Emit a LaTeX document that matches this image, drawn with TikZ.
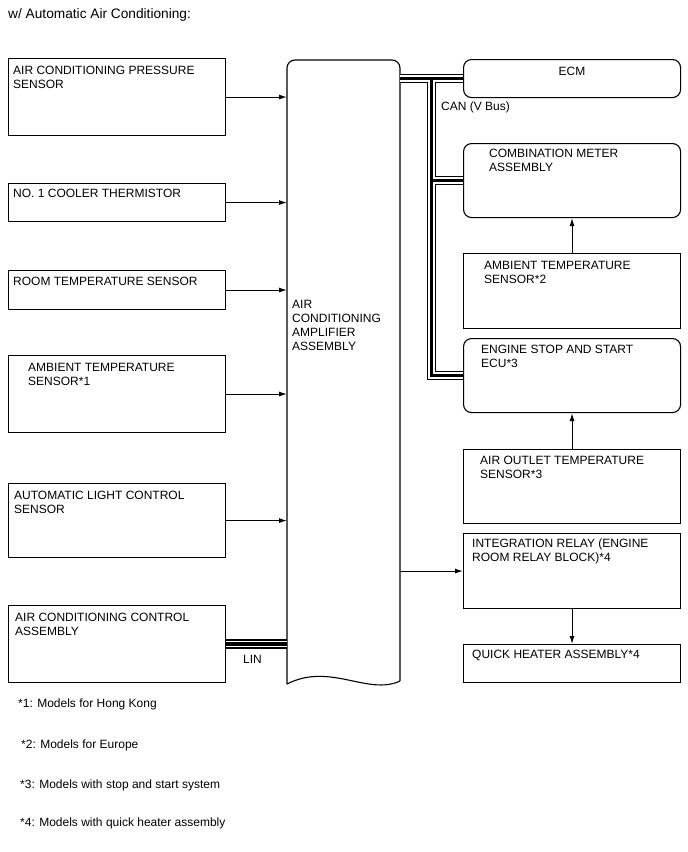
\documentclass[tikz,border=0pt]{standalone}
\usepackage{fontspec}
\setmainfont{Liberation Sans}
\usetikzlibrary{arrows.meta,positioning,calc}

\begin{document}
\begin{tikzpicture}[
    x=1pt, y=-1pt,
    font=\fontsize{12}{14}\selectfont,
    >={Latex[length=8pt,width=5pt]},
    unit/.style={rectangle, draw=black, line width=1.1pt, anchor=north west,
      inner sep=0pt, minimum width=217pt},
    ecu/.style={unit, rounded corners=8pt},
    txt/.style={align=left, inner sep=0pt, anchor=north west},
    sig/.style={->, line width=1.1pt},
  ]
  \useasboundingbox (0,0) rectangle (688,852);
  \node[txt, font=\fontsize{13.7}{16}\selectfont] (title) at (8,8) {w/ Automatic Air Conditioning:};

  % sensors / switches on the left
  \node[unit, minimum height=77pt] (pres) at (8,58) {};
  \node[txt, below right=8pt and 5pt of pres.north west] {AIR CONDITIONING PRESSURE\\SENSOR};
  \node[unit, minimum height=38pt] (cool) at (8,183) {};
  \node[txt, below right=6pt and 5pt of cool.north west] {NO. 1 COOLER THERMISTOR};
  \node[unit, minimum height=39pt] (room) at (8,270) {};
  \node[txt, below right=7pt and 5pt of room.north west] {ROOM TEMPERATURE SENSOR};
  \node[unit, minimum height=77pt] (amba) at (8,355) {};
  \node[txt, below right=8pt and 20pt of amba.north west] {AMBIENT TEMPERATURE\\SENSOR*1};
  \node[unit, minimum height=74pt] (light) at (8,483) {};
  \node[txt, below right=8pt and 6pt of light.north west] {AUTOMATIC LIGHT CONTROL\\SENSOR};
  \node[unit, minimum height=77pt] (ctrl) at (8,605) {};
  \node[txt, below right=8pt and 7pt of ctrl.north west] {AIR CONDITIONING CONTROL\\ASSEMBLY};

  % amplifier
  \node[anchor=north west, inner sep=0pt, minimum width=113pt, minimum height=622pt] (amp) at (287,60) {};
  \draw[line width=1.1pt, rounded corners=8pt] (287,684) -- (287,60) -- (400,60) -- (400,681);
  \draw[line width=1.1pt] (400,681) .. controls (368,696) and (330,662) .. (287,684);
  \node[txt, below right=240pt and 5pt of amp.north west] {AIR\\CONDITIONING\\AMPLIFIER\\ASSEMBLY};

  % units on the right
  \node[ecu, minimum height=38pt] (ecm) at (463,59) {};
  \node[txt, anchor=north] at ($(ecm.north)+(0,-8pt)$) {ECM};
  \node[ecu, minimum height=74pt] (meter) at (463,143) {};
  \node[txt, below right=6pt and 26pt of meter.north west] {COMBINATION METER\\ASSEMBLY};
  \node[unit, minimum height=75pt] (ambb) at (463,253) {};
  \node[txt, below right=8pt and 21pt of ambb.north west] {AMBIENT TEMPERATURE\\SENSOR*2};
  \node[ecu, minimum height=74pt] (eco) at (463,338) {};
  \node[txt, below right=7pt and 18pt of eco.north west] {ENGINE STOP AND START\\ECU*3};
  \node[unit, minimum height=74pt] (outlet) at (463,449) {};
  \node[txt, below right=7pt and 17pt of outlet.north west] {AIR OUTLET TEMPERATURE\\SENSOR*3};
  \node[unit, minimum height=75pt] (relay) at (463,533) {};
  \node[txt, below right=6pt and 9pt of relay.north west] {INTEGRATION RELAY (ENGINE\\ROOM RELAY BLOCK)*4};
  \node[unit, minimum height=38pt] (heater) at (463,644) {};
  \node[txt, below right=6pt and 9pt of heater.north west] {QUICK HEATER ASSEMBLY*4};

  % signals
  \foreach \s in {pres,cool,room,amba,light}
    \draw[sig] (\s.east) -- (\s.east -| amp.west);
  \draw[sig] (relay.west -| amp.east) -- (relay.west);
  \draw[sig] (ambb.north) -- (meter.south);
  \draw[sig] (outlet.north) -- (eco.south);
  \draw[sig] (relay.south) -- (heater.north);

  % CAN and LIN
  \coordinate (canj) at ($(ecm.west -| amp.east)+(31,0)$);
  \foreach \w/\c in {9.6pt/black,6.6pt/white,3.2pt/black}{
    \draw[line width=\w, draw=\c] (ecm.west -| amp.east) -- (ecm.west);
    \draw[line width=\w, draw=\c] (canj) -- (canj |- eco.west) -- (eco.west);
    \draw[line width=\w, draw=\c] (canj |- meter.west) -- (meter.west);
    \draw[line width=\w, draw=\c] (ctrl.east) -- (ctrl.east -| amp.west);
  }
  \node[txt] (can) at (441,102) {CAN (V Bus)};
  \node[txt] (lin) at (243,655) {LIN};

  % notes
  \node[txt] (n1) at (18,699) {*1: Models for Hong Kong};
  \node[txt] (n2) at (21,740) {*2: Models for Europe};
  \node[txt] (n3) at (20,780) {*3: Models with stop and start system};
  \node[txt] (n4) at (20,818) {*4: Models with quick heater assembly};
\end{tikzpicture}
\end{document}
